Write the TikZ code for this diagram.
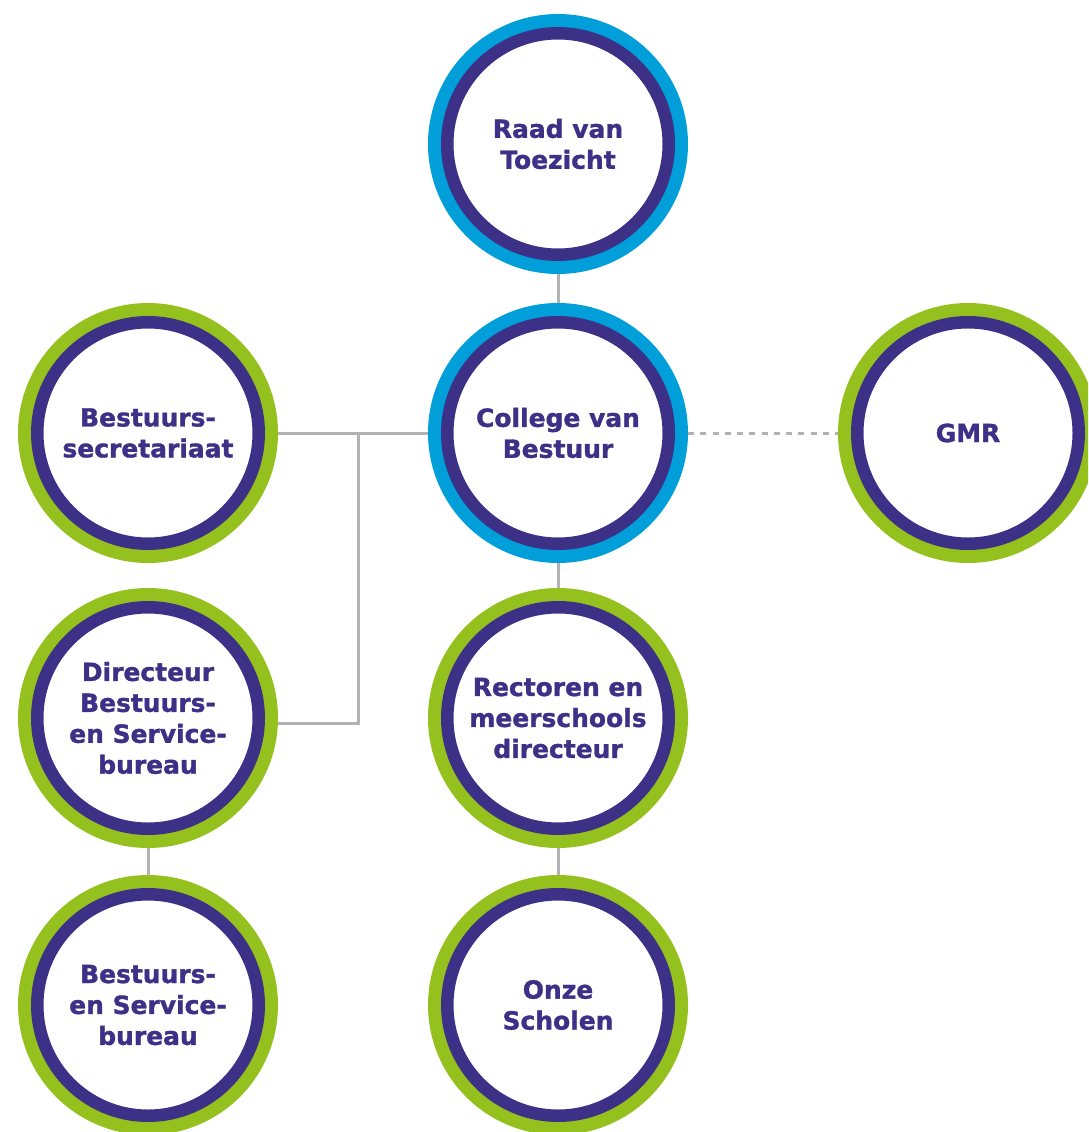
\documentclass[tikz,border=0pt]{standalone}
\usepackage{fontspec}
\setmainfont{DejaVu Sans}[BoldFeatures={FakeBold=1.3}]
\definecolor{paars}{RGB}{61,48,135}
\definecolor{blauw}{RGB}{0,159,218}
\definecolor{groen}{RGB}{149,193,31}
\definecolor{grijs}{RGB}{178,178,178}

\begin{document}
\begin{tikzpicture}[
  font=\fontsize{14.2}{17.6}\selectfont\bfseries,
  kring/.style={circle, draw=paars, line width=0.25cm, fill=white,
                minimum size=4.43cm, inner sep=0pt, outer sep=0.385cm,
                text=paars, align=center,
                preaction={draw=#1, line width=0.77cm}},
  lijn/.style={grijs, line width=0.06cm},
  stippel/.style={grijs, line width=0.06cm, dash pattern=on 0.12cm off 0.125cm}
]

% ---------- Rand van de figuur -----------------------------------
\useasboundingbox (0,0) rectangle (21.76,-22.64);
\clip (0,0) rectangle (21.76,-22.64);

% ---------- Middenkolom ------------------------------------------
\node[kring=blauw] (raad) at (11.16,-2.88) {Raad van\\Toezicht};
\node[kring=blauw] (college) at (11.16,-8.66) {College van\\Bestuur};
\node[kring=groen] (rectoren) at (11.16,-14.36) {Rectoren en\\meerschools\\directeur};
\node[kring=groen] (scholen) at (11.16,-20.1) {Onze\\Scholen};

% ---------- Linkerkolom ------------------------------------------
\node[kring=groen] (secretariaat) at (2.96,-8.66) {Bestuurs-\\secretariaat};
\node[kring=groen] (directeur) at (2.96,-14.36) {Directeur\\Bestuurs-\\en Service-\\bureau};
\node[kring=groen] (bureau) at (2.96,-20.1) {Bestuurs-\\en Service-\\bureau};

% ---------- Rechts -----------------------------------------------
\node[kring=groen] (gmr) at (19.36,-8.66) {GMR};

% ---------- Lijnen -----------------------------------------------
\draw[lijn] (raad) -- (college);
\draw[lijn] (college) -- (rectoren);
\draw[lijn] (rectoren) -- (scholen);
\draw[lijn] (directeur) -- (bureau);
\draw[lijn] (college) -- (secretariaat);
\coordinate (tak) at (7.16,-8.66);
\draw[lijn] (tak) |- ([yshift=-0.1cm]directeur.east);
\draw[stippel] (college) -- (gmr);

\end{tikzpicture}
\end{document}
